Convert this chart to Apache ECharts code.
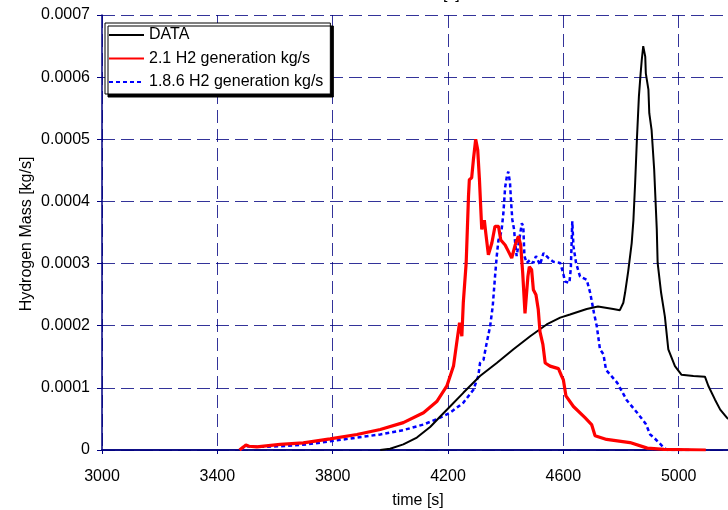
<!DOCTYPE html>
<html>
<head>
<meta charset="utf-8">
<script src="https://cdn.jsdelivr.net/npm/echarts@6/dist/echarts.min.js"></script>
<style>html,body{margin:0;padding:0;background:#fff;}#c{width:728px;height:510px;}</style>
</head>
<body>
<div id="c"></div>
<script>
// Series names
const seriesNames = ['DATA', '2.1 H2 generation kg/s', '1.8.6 H2 generation kg/s'];

// DATA (black)
const dataTime = [3965,3999,4045,4092,4138,4173,4207,4253,4311,4369,4427,4485,4542,4589,4623,4681,4720,4773,4796,4808,4814,4825,4837,4843,4849,4855,4862,4868,4872,4877,4884,4886,4895,4898,4906,4915,4924,4927,4939,4952,4964,4987,5010,5051,5091,5103,5126,5144,5167,5200];
const dataValue = [0,0.000002,0.000009,0.00002,0.000037,0.000054,0.00007,0.000092,0.000119,0.00014,0.000162,0.000183,0.000202,0.000213,0.000218,0.000227,0.000231,0.000227,0.000225,0.000237,0.000253,0.000288,0.000333,0.00037,0.00043,0.000499,0.000569,0.000606,0.000628,0.00065,0.000633,0.000606,0.00058,0.000542,0.000515,0.000451,0.000355,0.000301,0.000253,0.000215,0.000162,0.000135,0.000121,0.000119,0.000118,0.000103,0.000081,0.000065,0.000052,0.00004];

// 2.1 H2 generation kg/s (red)
const redTime = [3477,3491,3499,3510,3537,3618,3698,3791,3884,3965,4045,4115,4161,4196,4219,4230,4240,4248,4253,4263,4271,4274,4282,4288,4296,4303,4309,4317,4320,4326,4331,4340,4352,4363,4375,4383,4398,4409,4421,4433,4444,4452,4459,4467,4470,4477,4482,4490,4496,4505,4513,4519,4529,4537,4554,4583,4594,4600,4609,4635,4675,4698,4710,4750,4831,4891,4949,5094];
const redValue = [0,0.000005,0.000008,0.000006,0.000005,0.000009,0.0000115,0.000018,0.000025,0.000033,0.000044,0.00006,0.000078,0.000103,0.000135,0.000172,0.000205,0.000183,0.000237,0.000301,0.000408,0.000435,0.000438,0.000467,0.0005,0.000483,0.000435,0.000355,0.000355,0.00037,0.000349,0.000314,0.000333,0.00036,0.00036,0.000338,0.00033,0.00032,0.000309,0.00033,0.000344,0.00033,0.000285,0.00022,0.000218,0.000279,0.000295,0.00029,0.000258,0.00025,0.000226,0.00019,0.00017,0.00014,0.000135,0.000131,0.000119,0.000113,0.000087,0.00007,0.000052,0.000041,0.000023,0.000017,0.000012,0.000003,0.000001,0];

// 1.8.6 H2 generation kg/s (blue, dashed)
const blueTime = [3479,3502,3540,3618,3711,3791,3884,3965,4045,4115,4173,4207,4253,4288,4305,4311,4323,4334,4346,4355,4363,4369,4375,4381,4386,4392,4398,4404,4409,4415,4419,4423,4429,4433,4438,4447,4456,4461,4465,4473,4485,4496,4505,4519,4531,4548,4565,4589,4598,4606,4621,4626,4629,4631,4635,4644,4658,4681,4693,4706,4716,4727,4739,4748,4787,4820,4856,4886,4901,4914,4949,4960,5037];
const blueValue = [0,0.000006,0.000005,0.000006,0.000009,0.000014,0.00002,0.000025,0.000032,0.000041,0.000052,0.00006,0.000076,0.000097,0.000119,0.00014,0.000145,0.000172,0.000199,0.000231,0.000279,0.000312,0.000338,0.000344,0.000355,0.000381,0.000422,0.00044,0.000448,0.00043,0.000397,0.000371,0.000355,0.000333,0.000312,0.000338,0.000365,0.00036,0.000312,0.000301,0.000306,0.000301,0.000312,0.000298,0.000317,0.000309,0.000303,0.000301,0.000287,0.000271,0.000269,0.000293,0.000338,0.000368,0.000328,0.000301,0.000279,0.000274,0.000253,0.000221,0.000199,0.000162,0.000154,0.000129,0.000108,0.00008,0.00006,0.000042,0.000025,0.00002,0.0000035,0,0];

// Axis ranges (x range is cut at the picture's right edge)
const xMin = 3000, xMax = 5171, xStep = 400, xLastLabel = 5000;
const yMin = 0, yMax = 0.0007, yStep = 0.0001;
const xTitle = 'time [s]';
const yTitle = 'Hydrogen Mass [kg/s]';

const pairs = (t, v) => t.map((x, i) => [x, v[i]]);
const FONT = 'Liberation Sans, Arial, sans-serif';
const NAVY = '#000080';

const chart = echarts.init(document.getElementById('c'), null, {renderer: 'canvas'});
chart.setOption({
  animation: false,
  backgroundColor: '#ffffff',
  textStyle: {fontFamily: FONT},
  grid: {left: 102, right: 0, top: 15, bottom: 60, containLabel: false},
  legend: {
    orient: 'vertical',
    left: 105, top: 23,
    padding: [4, 7, 4, 3],
    itemWidth: 35, itemHeight: 14, itemGap: 7.5,
    backgroundColor: '#ffffff',
    borderColor: '#000000', borderWidth: 1, borderRadius: 0,
    shadowColor: '#000000', shadowBlur: 0, shadowOffsetX: 3, shadowOffsetY: 3,
    itemStyle: {color: 'rgba(0,0,0,0)', borderWidth: 0, opacity: 0},
    textStyle: {fontSize: 16, color: '#000', fontFamily: FONT},
    data: seriesNames
  },
  xAxis: [{
    type: 'value', min: xMin, max: xMax, interval: xStep, position: 'bottom',
    axisLine: {show: true, onZero: false, lineStyle: {color: NAVY, width: 1.5}},
    axisTick: {show: true, length: 4, lineStyle: {color: NAVY}},
    axisLabel: {fontSize: 16, color: '#000', margin: 19, fontFamily: FONT, showMaxLabel: false,
      formatter: v => (v <= xLastLabel && (v - xMin) % xStep === 0) ? String(v) : ''},
    splitLine: {show: true, lineStyle: {color: NAVY, type: [13, 6], width: 1, opacity: 0.8}}
  }, {
    type: 'value', min: xMin, max: xMax, interval: xStep, position: 'top',
    axisLine: {show: true, lineStyle: {color: NAVY, width: 1.5}},
    axisTick: {show: false}, axisLabel: {show: false}, splitLine: {show: false}
  }],
  yAxis: {
    type: 'value', min: yMin, max: yMax, interval: yStep,
    axisLine: {show: true, onZero: false, lineStyle: {color: NAVY, width: 1.5}},
    axisTick: {show: true, length: 5, lineStyle: {color: NAVY}},
    axisLabel: {fontSize: 16, color: '#000', margin: 12, fontFamily: FONT,
      formatter: v => v === 0 ? '0' : v.toFixed(4)},
    splitLine: {show: true, lineStyle: {color: NAVY, type: [13, 6], width: 1, opacity: 0.8}}
  },
  graphic: [
    {type: 'text', x: 27, y: 234, rotation: Math.PI / 2,
      style: {text: yTitle, font: '16px ' + FONT, fill: '#000', align: 'center', verticalAlign: 'middle'}},
    {type: 'text', x: 418, y: 501,
      style: {text: xTitle, font: '16px ' + FONT, fill: '#000', align: 'center', verticalAlign: 'middle'}},
    {type: 'text', x: 434, y: -5,
      style: {text: xTitle, font: '16px ' + FONT, fill: '#000', align: 'center', verticalAlign: 'middle'}}
  ],
  series: [{
    name: seriesNames[0], type: 'line', data: pairs(dataTime, dataValue),
    symbol: 'none', showSymbol: false, clip: true,
    lineStyle: {color: '#000000', width: 2}, itemStyle: {color: '#000000'}, z: 3
  }, {
    name: seriesNames[1], type: 'line', data: pairs(redTime, redValue),
    symbol: 'none', showSymbol: false, clip: true,
    lineStyle: {color: '#ff0000', width: 3.2}, itemStyle: {color: '#ff0000'}, z: 4
  }, {
    name: seriesNames[2], type: 'line', data: pairs(blueTime, blueValue),
    symbol: 'none', showSymbol: false, clip: true,
    lineStyle: {color: '#0000ff', width: 2.5, type: [4, 3]}, itemStyle: {color: '#0000ff'}, z: 2
  }]
});
</script>
</body>
</html>
